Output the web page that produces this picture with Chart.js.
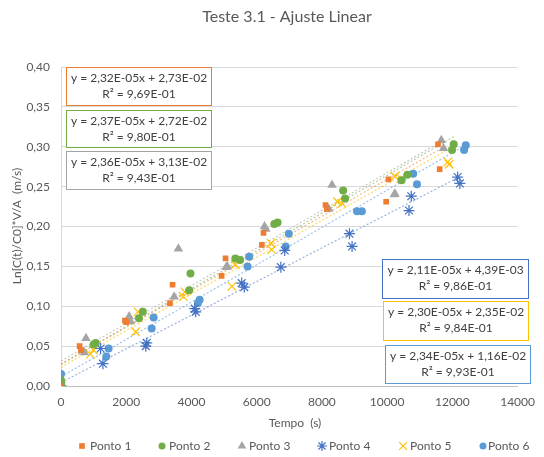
<!DOCTYPE html>
<html>
<head>
<meta charset="utf-8">
<script src="https://cdn.jsdelivr.net/npm/chart.js@4.4.0/dist/chart.umd.min.js"></script>
<style>
html,body{margin:0;padding:0;background:#fff;}
#wrap{width:544px;height:457px;position:relative;}
</style>
</head>
<body>
<div id="wrap"><canvas id="c" width="544" height="457"></canvas></div>
<script>
// ---- data ----
const seriesNames = ['Ponto 1', 'Ponto 2', 'Ponto 3', 'Ponto 4', 'Ponto 5', 'Ponto 6'];

const p1Time = [0, 0, 570, 610, 1960, 2000, 3340, 3420, 4925, 5045, 6160, 6210, 8110, 8150, 9970, 10040, 11560, 11610];
const p1Val  = [0, 0, 0.050, 0.045, 0.082, 0.080, 0.104, 0.127, 0.138, 0.160, 0.177, 0.192, 0.227, 0.222, 0.231, 0.259, 0.303, 0.272];

const p2Time = [0, 0, 1000, 1065, 2390, 2510, 3930, 3970, 5345, 5490, 6540, 6640, 8650, 8710, 10440, 10620, 11990, 12040];
const p2Val  = [0.007, 0.002, 0.052, 0.054, 0.085, 0.093, 0.120, 0.141, 0.160, 0.158, 0.203, 0.205, 0.245, 0.235, 0.258, 0.265, 0.296, 0.303];

const p3Time = [0, 0, 716, 766, 2090, 2130, 3470, 3600, 5065, 5100, 6240, 6280, 8210, 8310, 10220, 10240, 11660, 11730];
const p3Val  = [0, 0, 0.042, 0.060, 0.087, 0.081, 0.112, 0.172, 0.149, 0.150, 0.200, 0.197, 0.222, 0.252, 0.240, 0.241, 0.308, 0.298];

const p4Time = [0, 0, 1215, 1285, 2600, 2630, 4100, 4130, 5540, 5620, 6740, 6860, 8845, 8925, 10670, 10740, 12160, 12230];
const p4Val  = [0, 0, 0.047, 0.028, 0.050, 0.054, 0.097, 0.093, 0.129, 0.124, 0.149, 0.170, 0.191, 0.175, 0.220, 0.238, 0.262, 0.254];

const p5Time = [0, 0, 900, 995, 2290, 2360, 3750, 3800, 5240, 5340, 6440, 6460, 8480, 8610, 10240, 10420, 11860, 11900];
const p5Val  = [0, 0.002, 0.040, 0.045, 0.068, 0.093, 0.112, 0.118, 0.125, 0.152, 0.179, 0.171, 0.231, 0.229, 0.263, 0.260, 0.281, 0.278];

const p6Time = [0, 0, 1390, 1460, 2780, 2840, 4200, 4250, 5720, 5770, 6890, 6985, 9075, 9225, 10800, 10915, 12360, 12410];
const p6Val  = [0.015, 0.001, 0.037, 0.047, 0.072, 0.086, 0.104, 0.108, 0.150, 0.162, 0.175, 0.191, 0.219, 0.219, 0.266, 0.253, 0.296, 0.302];

// trendline equations as printed on the chart
const slopes     = [2.32e-5, 2.37e-5, 2.36e-5, 2.11e-5, 2.30e-5, 2.34e-5];
const intercepts = [2.73e-2, 2.72e-2, 3.13e-2, 4.39e-3, 2.35e-2, 1.16e-2];
const eqLabels = ['y = 2,32E-05x + 2,73E-02', 'y = 2,37E-05x + 2,72E-02', 'y = 2,36E-05x + 3,13E-02',
                  'y = 2,11E-05x + 4,39E-03', 'y = 2,30E-05x + 2,35E-02', 'y = 2,34E-05x + 1,16E-02'];
const r2Labels = ['R² = 9,69E-01', 'R² = 9,80E-01', 'R² = 9,43E-01', 'R² = 9,86E-01', 'R² = 9,84E-01', 'R² = 9,93E-01'];

const xTickLabels = ['0', '2000', '4000', '6000', '8000', '10000', '12000', '14000'];
const yTickLabels = ['0,00', '0,05', '0,10', '0,15', '0,20', '0,25', '0,30', '0,35', '0,40'];

const titleText = 'Teste 3.1 - Ajuste Linear';
const xTitle = 'Tempo  (s)';
const yTitle = 'Ln[C(t)/C0]*V/A  (m/s)';

// ---- styles ----
const colors = ['#ED7D31', '#70AD47', '#A5A5A5', '#4472C4', '#FFC000', '#5B9BD5'];
const trendColors = ['rgba(237,125,49,0.55)', 'rgba(112,173,71,0.55)', 'rgba(165,165,165,0.6)',
                     'rgba(68,114,196,0.55)', 'rgba(255,192,0,0.6)', 'rgba(91,155,213,0.6)'];
const styles = ['rect', 'circle', 'triangle', 'star', 'crossRot', 'circle'];
const radii = [4, 4, 5.5, 5.5, 6, 4];

const times = [p1Time, p2Time, p3Time, p4Time, p5Time, p6Time];
const vals = [p1Val, p2Val, p3Val, p4Val, p5Val, p6Val];

const datasets = [];
for (let i = 0; i < 6; i++) {
  const xmin = Math.min(...times[i]), xmax = Math.max(...times[i]);
  datasets.push({
    label: seriesNames[i] + ' trend',
    type: 'line',
    data: [{x: xmin, y: slopes[i] * xmin + intercepts[i]}, {x: xmax, y: slopes[i] * xmax + intercepts[i]}],
    borderColor: trendColors[i],
    borderWidth: 1.2,
    borderDash: [2, 2],
    pointRadius: 0,
    fill: false,
    order: 20
  });
}
for (let i = 0; i < 6; i++) {
  const hollow = styles[i] === 'star' || styles[i] === 'crossRot';
  datasets.push({
    label: seriesNames[i],
    type: 'scatter',
    data: times[i].map((t, k) => ({x: t, y: vals[i][k]})),
    pointStyle: styles[i],
    pointRadius: radii[i],
    pointBackgroundColor: colors[i],
    pointBorderColor: colors[i],
    pointBorderWidth: hollow ? 1.2 : 0,
    order: 1
  });
}

const FONT = 'Lato, "Liberation Sans", sans-serif';

const decor = {
  id: 'decor',
  afterDraw(chart) {
    const ctx = chart.ctx;
    ctx.save();
    // title
    ctx.fillStyle = '#595959';
    ctx.font = '16px ' + FONT;
    ctx.textAlign = 'center';
    ctx.textBaseline = 'middle';
    ctx.fillText(titleText, 287, 17);
    // axis titles
    ctx.font = '12px ' + FONT;
    ctx.fillText(xTitle, 295, 423);
    ctx.save();
    ctx.translate(17, 226);
    ctx.rotate(-Math.PI / 2);
    ctx.fillText(yTitle, 0, 0);
    ctx.restore();
    // legend
    const mx = [82, 162, 242, 322, 403, 483];
    const tx = [90, 169, 249, 329, 410, 488];
    const lr = [4, 3.5, 5, 5, 5.5, 3.5];
    for (let i = 0; i < 6; i++) {
      const hollow = styles[i] === 'star' || styles[i] === 'crossRot';
      ctx.fillStyle = colors[i];
      ctx.strokeStyle = colors[i];
      ctx.lineWidth = hollow ? 1.2 : 0;
      Chart.helpers.drawPoint(ctx, {pointStyle: styles[i], radius: lr[i], borderWidth: hollow ? 1.2 : 0, rotation: 0}, mx[i], 446);
      ctx.fillStyle = '#595959';
      ctx.textAlign = 'left';
      ctx.font = '12px ' + FONT;
      ctx.fillText(seriesNames[i], tx[i], 446);
    }
    // equation boxes
    const boxes = [[66, 67, 145, 38], [66, 110, 145, 37], [66, 151, 145, 38],
                   [382, 259, 146, 39], [383, 301, 145, 39], [385, 345, 145, 38]];
    for (let i = 0; i < 6; i++) {
      const [bx, by, bw, bh] = boxes[i];
      ctx.fillStyle = '#ffffff';
      ctx.fillRect(bx, by, bw, bh);
      ctx.strokeStyle = colors[i];
      ctx.lineWidth = 1;
      ctx.strokeRect(bx + 0.5, by + 0.5, bw, bh);
      ctx.fillStyle = '#404040';
      ctx.textAlign = 'center';
      ctx.font = '12px ' + FONT;
      ctx.fillText(eqLabels[i], bx + bw / 2 + 0.5, by + 11);
      ctx.fillText(r2Labels[i], bx + bw / 2 + 0.5, by + 27);
    }
    ctx.restore();
  }
};

new Chart(document.getElementById('c'), {
  type: 'scatter',
  data: {datasets},
  options: {
    responsive: false,
    animation: false,
    layout: {padding: {top: 67, right: 14, bottom: 0, left: 0}},
    plugins: {legend: {display: false}, title: {display: false}, tooltip: {enabled: false}},
    scales: {
      x: {
        type: 'linear', min: 0, max: 14000,
        afterFit(s) { s.height = 71; },
        afterBuildTicks(s) { s.ticks = xTickLabels.map(v => ({value: Number(v)})); },
        grid: {display: false, drawTicks: false},
        border: {display: true, color: '#BFBFBF', width: 1},
        ticks: {
          padding: 9, color: '#595959', font: {family: FONT, size: 12},
          callback: (v) => xTickLabels[xTickLabels.indexOf(String(v))] ?? ''
        }
      },
      y: {
        type: 'linear', min: 0, max: 0.4,
        afterFit(s) { s.width = 61; },
        afterBuildTicks(s) { s.ticks = yTickLabels.map(v => ({value: Number(v.replace(',', '.'))})); },
        grid: {color: '#D9D9D9', drawTicks: false},
        border: {display: true, color: '#D9D9D9', width: 1},
        ticks: {
          padding: 11, color: '#595959', font: {family: FONT, size: 12},
          callback: (v) => yTickLabels[Math.round(v / 0.05)]
        }
      }
    }
  },
  plugins: [decor]
});
</script>
</body>
</html>
